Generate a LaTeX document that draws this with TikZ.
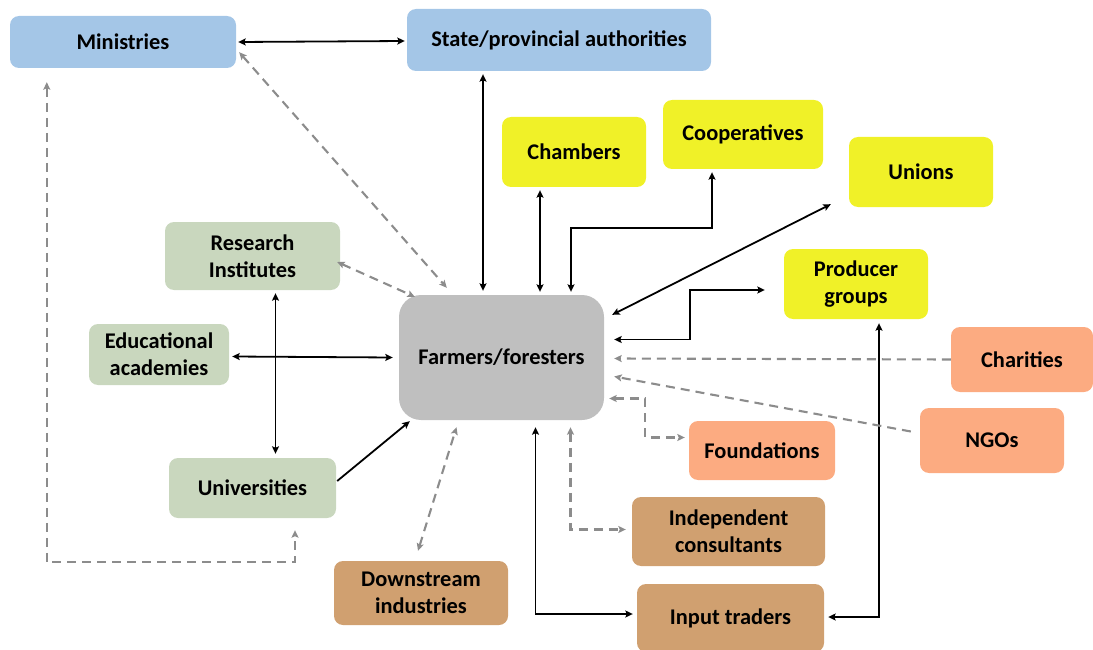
\documentclass[tikz,border=0pt]{standalone}
\usepackage{fontspec}
\setmainfont{Carlito}
\usetikzlibrary{arrows.meta}

\definecolor{govblue}{RGB}{164,198,231}
\definecolor{orgyellow}{RGB}{240,241,40}
\definecolor{edugreen}{RGB}{201,215,190}
\definecolor{farmgray}{RGB}{191,191,191}
\definecolor{civsalmon}{RGB}{252,171,129}
\definecolor{biztan}{RGB}{208,160,112}
\definecolor{dashgray}{RGB}{140,140,140}

\tikzset{
  actor/.style={rounded corners=9pt, inner sep=0pt, align=center,
    font=\bfseries\fontsize{22.4}{27}\selectfont},
  gov/.style={actor, fill=govblue},
  org/.style={actor, fill=orgyellow},
  edu/.style={actor, fill=edugreen},
  civ/.style={actor, fill=civsalmon},
  biz/.style={actor, fill=biztan},
  link/.style={line width=1.8pt, black, >={Stealth[length=7.5pt,width=7pt,inset=1.5pt]}},
  soft/.style={line width=2.1pt, dashgray, dash pattern=on 9pt off 6pt,
    >={Stealth[length=7.5pt,width=7pt,inset=1.5pt]}},
}

\begin{document}
\begin{tikzpicture}[x=1pt, y=-1pt]
\useasboundingbox (0,0) rectangle (1093,650);

% actors
\node[gov, minimum width=226pt, minimum height=52pt] (min)   at (123,42)   {Ministries};
\node[gov, minimum width=304pt, minimum height=62pt] (state) at (559,40)   {State/provincial authorities};
\node[org, minimum width=144pt, minimum height=70pt] (ch)    at (574,152)  {Chambers};
\node[org, minimum width=160pt, minimum height=69pt] (coop)  at (743,134.5){Cooperatives};
\node[org, minimum width=144pt, minimum height=70pt] (un)    at (921,172)  {Unions};
\node[edu, minimum width=175pt, minimum height=68pt] (rs)    at (252.5,256){Research\\Institutes};
\node[org, minimum width=144pt, minimum height=70pt] (pg)    at (856,284)  {Producer\\groups};
\node[edu, minimum width=140pt, minimum height=61pt] (ed)    at (159,354.5){Educational\\academies};
\node[actor, fill=farmgray, rounded corners=22pt,
      minimum width=205pt, minimum height=125pt] (farm)      at (501.5,357.5){Farmers/foresters};
\node[civ, minimum width=142pt, minimum height=65pt] (char)  at (1022,359.5){Charities};
\node[civ, minimum width=144pt, minimum height=65pt] (ngo)   at (992,440.5){NGOs};
\node[civ, minimum width=146pt, minimum height=59pt] (found) at (762,450.5){Foundations};
\node[edu, minimum width=167pt, minimum height=60pt] (uni)   at (252.5,488){Universities};
\node[biz, minimum width=193pt, minimum height=69pt] (ic)    at (728.5,531.5){Independent\\consultants};
\node[biz, minimum width=174pt, minimum height=64pt] (ds)    at (421,593)  {Downstream\\industries};
\node[biz, minimum width=187pt, minimum height=68pt] (it)    at (730.5,618){Input traders};

% formal links
\draw[link,<->] ([shift={(2,0)}]min.east) -- ([shift={(-2,1)}]state.west);
\draw[link,<->] ([shift={(-76,3)}]state.south) -- ([shift={(-18.5,-4)}]farm.north);
\draw[link,<->] ([shift={(-34,3)}]ch.south) -- ([shift={(38.5,-3)}]farm.north);
\draw[link,<->] ([shift={(-31,3)}]coop.south) -- ++(0,56) -| ([shift={(69.5,-3)}]farm.north);
\draw[link,<->] ([shift={(-18,-3)}]un.south west) -- ([shift={(8,20)}]farm.north east);
\draw[link,<->] ([shift={(-19,6)}]pg.west) -- ++(-75,0) |- ([shift={(10,-18)}]farm.east);
\draw[link,<->] ([shift={(3,2)}]ed.east) -- ([shift={(-6,0)}]farm.west);
\draw[link,<->] ([shift={(23,3)}]rs.south) -- ([shift={(23,-4)}]uni.north);
\draw[link,->]  ([shift={(1,-7)}]uni.east) -- ([shift={(11,1)}]farm.south west);
\draw[link,<->] ([shift={(34,7)}]farm.south) |- ([shift={(-4,-4)}]it.west);
\draw[link,<->] ([shift={(23,4)}]pg.south) |- ([shift={(4,-1)}]it.east);

% informal links
\draw[soft,<->] ([shift={(3,-16)}]min.south east) -- ([shift={(48,-7)}]farm.north west);
\draw[soft,<->] ([shift={(-3,6)}]rs.east) -- ([shift={(16,2)}]farm.north west);
\draw[soft,->]  (char.west) -- ([shift={(10,1)}]farm.east);
\draw[soft,->]  ([shift={(-9,-9)}]ngo.west) -- ([shift={(10,19)}]farm.east);
\draw[soft,<->] ([shift={(5,41)}]farm.east) -- ++(36,0) |- ([shift={(-4,-13)}]found.west);
\draw[soft,<->] ([shift={(37,14)}]min.south west) -- ++(0,480) -| ([shift={(42.5,12)}]uni.south);
\draw[soft,<->] ([shift={(-3,-10)}]ds.north) -- ([shift={(-45,7)}]farm.south);
\draw[soft,<->] ([shift={(69,7)}]farm.south) |- ([shift={(-6,-2)}]ic.west);
\end{tikzpicture}
\end{document}
